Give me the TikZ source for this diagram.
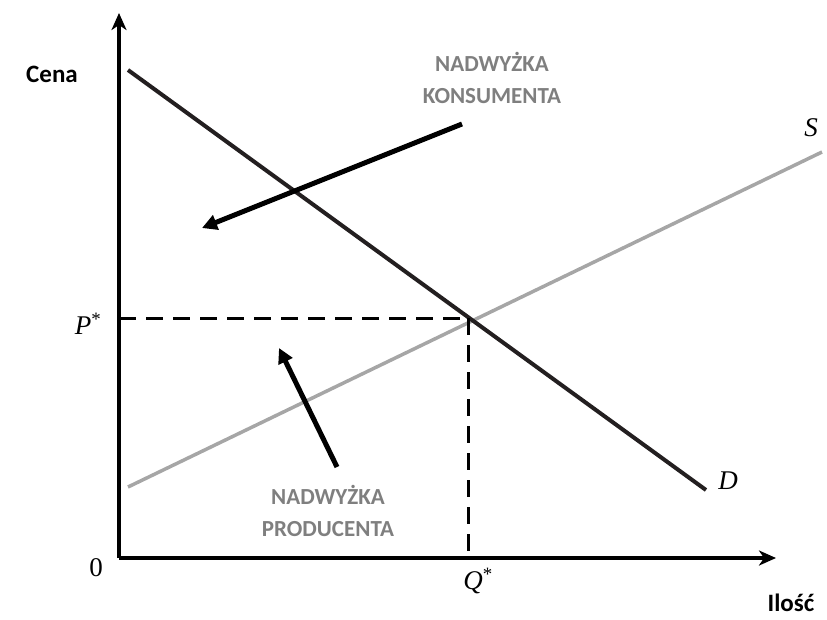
\documentclass[tikz,border=0pt]{standalone}
\usepackage{fontspec}
\setmainfont{Liberation Serif}
\newfontfamily\labelfont{Carlito}
\usepackage{tikz}
\usetikzlibrary{arrows.meta}

\definecolor{darkline}{HTML}{231F20}
\definecolor{supplygray}{HTML}{A6A6A6}
\definecolor{textgray}{HTML}{7F7F7F}

\tikzset{
  axis/.style={line width=4.5pt,-{Stealth[length=17pt,width=15pt,inset=5pt]}},
  pointer/.style={line width=5pt,-{Triangle[length=15pt,width=15pt]}},
  guide/.style={line width=3pt,dash pattern=on 17pt off 10pt},
  surplus/.style={font=\labelfont\bfseries\fontsize{23}{32}\selectfont,text=textgray,align=center},
  axislabel/.style={font=\labelfont\bfseries\fontsize{25}{28}\selectfont},
  mathlabel/.style={font=\fontsize{27}{30}\selectfont}
}

\begin{document}
\begin{tikzpicture}[x=1pt,y=-1pt]
  \useasboundingbox (0,0) rectangle (827,619);

  % axes
  \coordinate (origin) at (119,558);
  \coordinate (ytop) at (119,13);
  \coordinate (xend) at (776,558);
  \draw[axis] (origin) -- (ytop);
  \draw[axis] (origin) -- (xend);

  % demand and supply
  \coordinate (d1) at (128,70);
  \coordinate (d2) at (706,490);
  \coordinate (s1) at (128,487);
  \coordinate (s2) at (822,152);
  \draw[supplygray,line width=3.5pt] (s1) -- (s2);
  \draw[darkline,line width=4pt] (d1) -- (d2);

  % equilibrium
  \coordinate (eq) at (468,318);
  \coordinate (pstar) at (119,318);
  \coordinate (qstar) at (468,558);
  \draw[guide] (pstar) -- (eq);
  \draw[guide] (eq) -- (qstar);

  \node[mathlabel] (plab) at (88,324) {\textit{P}\textsuperscript{*}};
  \node[mathlabel] (qlab) at (478,581) {\textit{Q}\textsuperscript{*}};
  \node[mathlabel] (zero) at (96,568) {0};
  \node[mathlabel] (slab) at (811,128) {\textit{S}};
  \node[mathlabel] (dlab) at (728,481) {\textit{D}};

  \node[axislabel] (cena) at (52,74) {Cena};
  \node[axislabel] (ilosc) at (791,603) {Ilość};

  % surplus labels
  \node[surplus] (konsument) at (492,78) {NADWYŻKA\\KONSUMENTA};
  \node[surplus] (producent) at (328,511) {NADWYŻKA\\PRODUCENTA};

  \coordinate (ka) at (462,124);
  \coordinate (kb) at (202,228);
  \draw[pointer] (ka) -- (kb);
  \coordinate (pa) at (337,467);
  \coordinate (pb) at (279,348);
  \draw[pointer] (pa) -- (pb);
\end{tikzpicture}
\end{document}
